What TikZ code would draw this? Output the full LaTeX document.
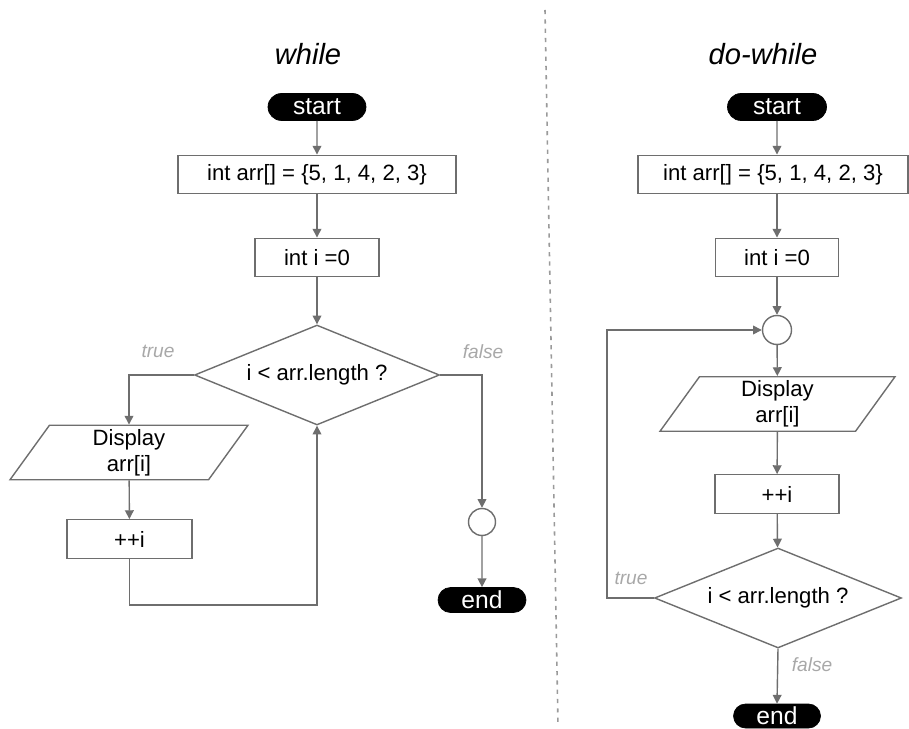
\documentclass[tikz,border=0pt]{standalone}
\usepackage{fontspec}
\setmainfont{Liberation Sans}
\usetikzlibrary{
  positioning, arrows.meta, shapes.geometric, shapes.misc
}
\usepackage{xcolor}
\definecolor{flowgray}{HTML}{6E6E6E}
\definecolor{lblgray}{HTML}{A8A8A8}
\definecolor{sepgray}{HTML}{9A9A9A}

\begin{document}
\begin{tikzpicture}[
      x=0.02cm, y=-0.02cm,
      every node/.style={font=\fontsize{12.6}{15}\selectfont},
      term/.style={rounded rectangle, fill=black, draw=black, text=white, inner sep=0pt, font=\fontsize{14}{16}\selectfont},
      proc/.style={draw=flowgray, line width=0.8pt, inner sep=0pt, minimum height=0.77cm},
      io/.style={trapezium, trapezium left angle=50, trapezium right angle=130, trapezium stretches body=true, draw=flowgray, line width=0.8pt, inner sep=0pt, align=center, minimum height=1.09cm},
      cond/.style={diamond, aspect=2.45, draw=flowgray, line width=0.8pt, inner sep=0pt, minimum width=4.9cm, minimum height=2cm},
      joint/.style={circle, draw=flowgray, line width=0.8pt, inner sep=0pt},
      flow/.style={draw=flowgray, line width=0.8pt, -{Triangle[length=5pt, width=5pt]}},
      lbl/.style={font=\fontsize{10.9}{12}\selectfont\itshape, text=lblgray},
      ttl/.style={font=\fontsize{16.6}{19}\selectfont\itshape},
    ]
    \useasboundingbox (0,0) rectangle (909,729);

    % Separator
    \draw[sepgray, line width=0.9pt, dash pattern=on 2.4pt off 2.9pt] (545,10) -- (558,725);

    % while
    \node[ttl] (ttlL) at (308,54) {while};
    \node[term, minimum width=1.96cm, minimum height=0.54cm] (startL) at (317,107) {start};
    \node[proc, minimum width=5.56cm] (arrL) at (317,174.5) {int arr[] = \{5, 1, 4, 2, 3\}};
    \node[proc, minimum width=2.48cm] (iniL) at (317,257.5) {int i =0};
    \node[cond] (condL) at (317,375) {i < arr.length ?};
    \node[io, minimum width=4.76cm] (dispL) at (129,452.5) {Display\\arr[i]};
    \node[proc, minimum width=2.5cm] (incL) at (129.5,539) {++i};
    \node[joint, minimum size=0.54cm] (jointL) at (482,522) {};
    \node[term, minimum width=1.76cm, minimum height=0.5cm] (endL) at (482,600) {end};
    \coordinate (loopL) at (129.5,605);

    \draw[flow] (startL) -- (arrL);
    \draw[flow] (arrL) -- (iniL);
    \draw[flow] (iniL) -- (condL);
    \draw[flow] (condL.west) -| (dispL.north);
    \draw[flow] (dispL) -- (incL);
    \draw[flow] (incL.south) -- (loopL) -| (condL.south);
    \draw[flow] (condL.east) -| (jointL.north);
    \draw[flow] (jointL) -- (endL);
    \node[lbl] (trueL) at (158,351) {true};
    \node[lbl] (falseL) at (483,352) {false};

    % do-while
    \node[ttl] (ttlR) at (763,54) {do-while};
    \node[term, minimum width=1.98cm, minimum height=0.54cm] (startR) at (777,107) {start};
    \node[proc, minimum width=5.4cm] (arrR) at (773,174.5) {int arr[] = \{5, 1, 4, 2, 3\}};
    \node[proc, minimum width=2.46cm] (iniR) at (777,257.5) {int i =0};
    \node[joint, minimum size=0.58cm] (jointR) at (777,330) {};
    \node[io, minimum width=4.7cm] (dispR) at (777.5,404) {Display\\arr[i]};
    \node[proc, minimum width=2.48cm] (incR) at (777,494) {++i};
    \node[cond, minimum width=4.94cm] (condR) at (778,598) {i < arr.length ?};
    \node[term, minimum width=1.74cm, minimum height=0.48cm] (endR) at (777,716) {end};
    \coordinate (loopR) at (607,598);

    \draw[flow] (startR) -- (startR |- arrR.north);
    \draw[flow] (iniR |- arrR.south) -- (iniR);
    \draw[flow] (iniR) -- (jointR);
    \draw[flow] (jointR) -- (dispR);
    \draw[flow] (dispR) -- (incR);
    \draw[flow] (incR) -- (condR);
    \draw[flow] (condR.west) -- (loopR) |- (jointR.west);
    \draw[flow] (condR.south) -- (endR.north);
    \node[lbl] (trueR) at (631,578) {true};
    \node[lbl] (falseR) at (812,665) {false};
  \end{tikzpicture}
\end{document}
